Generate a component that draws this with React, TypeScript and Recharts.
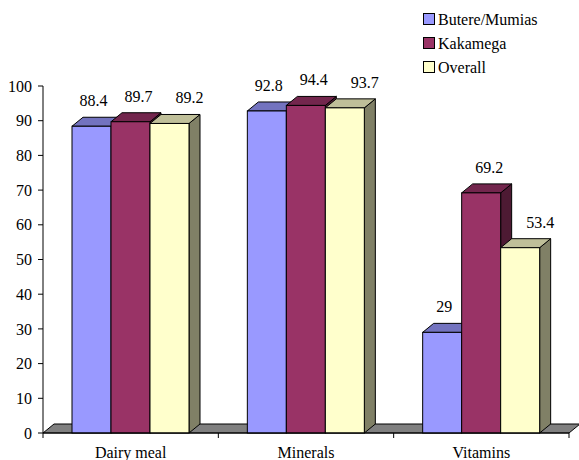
import React from 'react';
import { BarChart, Bar, XAxis, YAxis, Legend, ReferenceArea } from 'recharts';

const categories = ['Dairy meal', 'Minerals', 'Vitamins'];
const butereMumias = [88.4, 92.8, 29];
const kakamega = [89.7, 94.4, 69.2];
const overall = [89.2, 93.7, 53.4];
const seriesNames = ['Butere/Mumias', 'Kakamega', 'Overall'];
const yTicks = [0, 10, 20, 30, 40, 50, 60, 70, 80, 90, 100];

const data = categories.map((c, i) => ({
  category: c,
  butere: butereMumias[i],
  kakamega: kakamega[i],
  overall: overall[i],
}));

const FONT = 'Liberation Serif';
const DX = 11;
const DY = 9;

const SERIES = [
  { key: 'butere', name: seriesNames[0], front: '#9999FF', top: '#7373BF', side: '#4D4D80', labelShift: 2 },
  { key: 'kakamega', name: seriesNames[1], front: '#993366', top: '#73264D', side: '#4D1A33', labelShift: 8 },
  { key: 'overall', name: seriesNames[2], front: '#FFFFCC', top: '#BFBF99', side: '#808066', labelShift: 20 },
];

const make3DShape = (s: any) => (props: any) => {
  const { x, y, width: w, height: h } = props;
  if (w == null || h == null) return null;
  return (
    <g>
      <polygon
        points={`${x + w},${y} ${x + w + DX},${y - DY} ${x + w + DX},${y + h - DY} ${x + w},${y + h}`}
        fill={s.side}
        stroke="#000"
        strokeWidth={1}
      />
      <polygon
        points={`${x},${y} ${x + w},${y} ${x + w + DX},${y - DY} ${x + DX},${y - DY}`}
        fill={s.top}
        stroke="#000"
        strokeWidth={1}
      />
      <rect x={x} y={y} width={w} height={h} fill={s.front} stroke="#000" strokeWidth={1} />
    </g>
  );
};

const makeLabel = (s: any) => (props: any) => {
  const { x, y, width, value } = props;
  return (
    <text
      x={x + width / 2 + s.labelShift}
      y={y - 20}
      textAnchor="middle"
      fontFamily={FONT}
      fontSize={16}
      fill="#000"
    >
      {value}
    </text>
  );
};

const Floor = (props: any) => {
  const { x, y, width } = props;
  const n = categories.length;
  const ticks = [];
  for (let i = 0; i <= n; i++) {
    const tx = x + (i * width) / n;
    ticks.push(<line key={i} x1={tx} y1={y} x2={tx} y2={y + 5} stroke="#000" strokeWidth={1} />);
  }
  return (
    <g>
      <polygon
        points={`${x},${y} ${x + width},${y} ${x + width + DX},${y - DY} ${x + DX},${y - DY}`}
        fill="#808080"
        stroke="#000"
        strokeWidth={1}
      />
      {ticks}
    </g>
  );
};

const renderLegend = (props: any) => {
  const payload = props.payload || [];
  return (
    <svg width={161} height={80} style={{ display: 'block' }}>
      {payload.map((p: any, i: number) => {
        const cy = 19 + i * 24;
        return (
          <g key={i}>
            <rect x={5.5} y={cy - 5.5} width={11} height={11} fill={p.color} stroke="#000" strokeWidth={1} />
            <text x={20} y={cy + 5.5} fontFamily={FONT} fontSize={16} fill="#000">
              {p.value}
            </text>
          </g>
        );
      })}
    </svg>
  );
};

const tickProps = { fontFamily: FONT, fontSize: 16, fill: '#000' };

export default function App() {
  return (
    <div style={{ position: 'absolute', left: 0, top: 0, background: '#fff', fontFamily: FONT }}>
      <BarChart
        width={579}
        height={460}
        data={data}
        margin={{ top: 86, right: 10, left: 0, bottom: 0 }}
        barCategoryGap={29}
        barGap={0}
      >
        <XAxis
          dataKey="category"
          height={27}
          tickLine={false}
          tickSize={5}
          tickMargin={9}
          axisLine={{ stroke: '#000' }}
          tick={tickProps}
          interval={0}
        />
        <YAxis
          domain={[0, 100]}
          ticks={yTicks}
          interval={0}
          width={43}
          tickSize={5}
          tickMargin={6}
          axisLine={{ stroke: '#000' }}
          tickLine={{ stroke: '#000' }}
          tick={tickProps}
        />
        <ReferenceArea y1={0} y2={0} shape={Floor} ifOverflow="visible" />
        <Legend
          layout="vertical"
          align="center"
          verticalAlign="middle"
          content={renderLegend}
          wrapperStyle={{ left: 418, top: 0, width: 161, height: 80 }}
        />
        {SERIES.map((s) => (
          <Bar
            key={s.key}
            dataKey={s.key}
            name={s.name}
            fill={s.front}
            shape={make3DShape(s)}
            label={makeLabel(s)}
            isAnimationActive={false}
          />
        ))}
      </BarChart>
    </div>
  );
}
